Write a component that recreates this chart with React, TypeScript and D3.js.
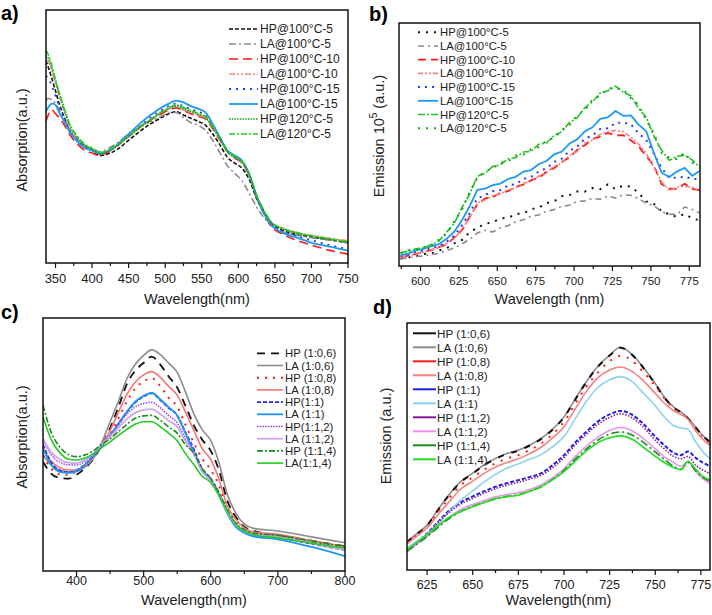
import React from 'react';
import * as d3 from 'd3';

// ---- panel a: absorption, temperature / time series ----
const WL_A = [337, 340, 345, 350, 355, 360, 370, 380, 390, 400, 410, 420, 435, 450, 465, 480, 495, 505, 515, 525, 535, 545, 555, 565, 575, 585, 595, 605, 615, 625, 635, 645, 660, 680, 700, 725, 750];
const A_HP100_5 = [80, 77.5, 73, 68, 63, 59, 52, 48.5, 46, 44.5, 42.5, 43, 45, 48.5, 52, 55, 57.5, 59, 59.8, 58.5, 57.2, 56, 54.5, 51, 46.6, 41.8, 39.5, 37.5, 33, 25.5, 20, 15.8, 13, 11.2, 10.3, 9.2, 8];
const A_LA100_5 = [64, 65, 64.5, 63, 60.5, 57.5, 52, 48.5, 46.5, 45.5, 44, 45, 47.5, 51, 53.5, 56, 58, 59.3, 59.5, 57.5, 55.5, 54.5, 52.5, 48.5, 43.5, 38.5, 35.5, 32.5, 27.5, 22.2, 18, 14.8, 12.5, 11, 10, 9, 8];
const A_HP100_10 = [56, 58.5, 60.5, 59, 57.5, 55.5, 50.5, 47, 44.5, 43.5, 42.5, 43.5, 46.5, 50, 53.5, 56.5, 59, 60.5, 61.3, 60.3, 59, 58, 57, 53, 48.5, 44, 41.5, 39.5, 34.5, 26, 19.5, 14.5, 11.5, 9, 7.1, 5, 3.5];
const A_LA100_10 = [80, 79.5, 76, 71, 66, 61.5, 53, 49, 46.5, 45, 43.5, 44, 46.5, 50, 53.5, 56.5, 59.5, 61, 61.8, 60.5, 59.5, 58.5, 57.3, 53.5, 49, 44, 41.5, 39.5, 34.5, 26.5, 20.5, 16.2, 13.8, 12, 11, 9.8, 8.8];
const A_HP100_15 = [74, 73, 70, 66, 62, 58.5, 52, 48.5, 46, 44.5, 43, 43.8, 46.5, 50.2, 54, 57.5, 60.5, 62, 63, 62, 60.8, 59.8, 58.5, 54.5, 49.5, 44.5, 42, 40, 35, 26.5, 20, 15.5, 12.5, 10.5, 9, 7, 5.5];
const A_LA100_15 = [60, 61.5, 63, 62.5, 59.5, 57, 51.5, 48, 45.5, 44.5, 43.3, 44, 47, 51, 55, 58.5, 61.5, 63, 64.2, 63.5, 62, 61, 59.5, 55, 49.5, 44.5, 42.5, 40.5, 35, 26.5, 19.5, 15, 12, 10, 8, 6.5, 4.9];
const A_HP120_5 = [82, 81, 77, 72, 67, 62.5, 54, 49.5, 46.5, 45, 43.5, 44, 46.5, 50, 53.5, 56.5, 59.5, 61, 62, 61, 59.8, 58.8, 57.5, 53.5, 49, 44, 41.8, 39.8, 35, 26.5, 20.5, 16, 13.5, 11.8, 10.5, 9.3, 8.2];
const A_LA120_5 = [84, 82.5, 78, 72.5, 67.5, 63, 54.5, 50, 47, 45.3, 43.7, 44.2, 46.8, 50.3, 53.8, 56.8, 59.8, 61.3, 62.5, 61.5, 60.2, 59.2, 58, 54, 49.5, 44.5, 42.2, 40.2, 35.3, 27, 20.8, 16.3, 13.8, 12, 10.8, 9.6, 8.5];
const TICKS_A = [350, 400, 450, 500, 550, 600, 650, 700, 750];
const MINOR_A = [375, 425, 475, 525, 575, 625, 675, 725];

// ---- panel b: emission, temperature / time series ----
const WL_B = [587, 592, 597, 602, 607, 612, 617, 622, 627, 632, 637, 642, 647, 652, 657, 662, 667, 672, 677, 682, 687, 692, 697, 702, 707, 712, 717, 722, 727, 732, 737, 742, 747, 752, 757, 762, 767, 772, 777, 782];
const B_HP100_5 = [3.0, 3.6, 3.9, 4.9, 5.2, 6.4, 7.3, 9.3, 10.7, 13.9, 15.7, 17.4, 18.0, 19.6, 19.8, 21.4, 21.7, 23.4, 24.0, 25.9, 26.6, 28.7, 29.2, 30.7, 30.6, 32.1, 31.6, 33.6, 31.6, 33.1, 32.6, 30.1, 26.6, 25.5, 22.6, 21.3, 20.2, 21.4, 19.6, 18.7];
const B_LA100_5 = [3.0, 3.3, 3.9, 4.1, 4.7, 5.2, 6.4, 7.4, 9.1, 10.9, 13.6, 14.7, 14.0, 15.7, 16.6, 18.2, 19.0, 20.5, 21.0, 22.5, 23.2, 24.6, 25.0, 26.6, 26.8, 27.8, 27.5, 28.8, 28.0, 29.3, 29.1, 27.8, 25.8, 24.8, 22.3, 21.3, 21.2, 24.3, 23.2, 21.8];
const B_HP100_10 = [3.5, 4.3, 4.9, 5.9, 6.5, 7.8, 8.8, 11.7, 14.8, 20.3, 25.3, 27.8, 28.3, 30.1, 30.8, 32.6, 33.5, 35.3, 36.3, 38.8, 40.3, 42.8, 44.7, 47.8, 49.7, 52.3, 53.2, 54.8, 53.7, 53.8, 51.7, 49.3, 45.2, 41.3, 33.7, 31.8, 31.7, 33.8, 31.7, 31.2];
const B_LA100_10 = [3.7, 4.1, 5.2, 5.7, 6.8, 7.5, 9.3, 11.3, 15.3, 19.7, 25.9, 27.2, 28.9, 29.6, 31.4, 32.1, 34.1, 34.8, 37.0, 38.3, 41.1, 42.3, 45.6, 47.1, 50.6, 51.7, 54.2, 55.2, 55.8, 55.3, 53.0, 50.2, 46.3, 40.6, 34.6, 31.0, 32.5, 32.8, 32.4, 30.4];
const B_HP100_15 = [4.1, 4.6, 5.8, 6.3, 7.5, 8.1, 10.0, 12.5, 16.8, 21.7, 27.8, 29.2, 30.8, 31.2, 33.1, 33.7, 35.8, 36.7, 38.9, 40.2, 42.8, 44.2, 47.4, 49.1, 52.4, 53.7, 56.4, 56.7, 58.9, 59.0, 58.4, 54.6, 51.9, 46.1, 40.4, 36.2, 36.4, 36.7, 35.9, 35.7];
const B_LA100_15 = [4.5, 5.1, 6.4, 7.0, 8.2, 9.0, 11.2, 14.2, 18.8, 24.6, 31.3, 31.8, 33.3, 33.9, 35.8, 36.7, 38.8, 39.5, 41.9, 43.2, 45.9, 47.1, 50.4, 52.1, 55.4, 57.1, 60.5, 61.2, 63.8, 61.8, 62.0, 58.2, 55.4, 46.5, 38.4, 36.6, 38.9, 40.4, 37.1, 39.2];
const B_HP120_5 = [5.5, 6.0, 7.1, 7.4, 8.9, 10.3, 13.9, 17.6, 24.0, 29.6, 36.9, 38.1, 41.0, 41.6, 44.1, 44.6, 46.9, 47.2, 50.1, 50.6, 53.8, 55.2, 59.1, 61.0, 65.2, 67.6, 71.2, 72.1, 74.0, 71.6, 70.1, 64.8, 61.2, 53.4, 47.6, 43.5, 45.1, 45.6, 43.6, 40.6];
const B_LA120_5 = [5.2, 6.4, 6.8, 7.8, 8.4, 10.8, 13.2, 18.4, 23.2, 30.5, 36.2, 39.0, 40.1, 42.5, 43.0, 45.5, 45.8, 48.1, 49.0, 51.6, 52.7, 56.0, 58.0, 62.1, 64.0, 68.6, 70.0, 73.1, 73.2, 72.6, 69.0, 66.3, 60.0, 54.7, 46.5, 44.6, 44.0, 46.6, 42.5, 41.5];
const TICKS_B = [600, 625, 650, 675, 700, 725, 750, 775];
const MINOR_B = [587.5, 612.5, 637.5, 662.5, 687.5, 712.5, 737.5, 762.5];

// ---- panel c: absorption, ratio series ----
const WL_C = [350, 362, 375, 388, 400, 412, 425, 437, 450, 462, 475, 487, 500, 512, 525, 537, 550, 562, 575, 587, 600, 612, 625, 637, 650, 662, 700, 750, 800];
const C_HP_06 = [43.2, 38.5, 36.8, 36.5, 38, 40.5, 44.2, 49.5, 56.5, 64.5, 74, 79, 82.3, 84.7, 81.5, 77, 72.5, 65.5, 57.5, 52, 47.5, 40, 27.5, 21.5, 17.5, 16, 14.2, 12, 9.8];
const C_LA_06 = [45.8, 42, 39.8, 39.2, 39.3, 41, 44.5, 50.5, 59, 66.8, 76, 81.5, 85.2, 87.4, 85.5, 82.2, 78.5, 71, 62, 56, 51.5, 43, 30, 23, 18.6, 17, 15.8, 13.5, 11.2];
const C_HP_08 = [45.8, 40.5, 38.2, 38, 39.3, 41.5, 44.8, 49.2, 54, 60, 67, 72, 75, 76.2, 73, 68.5, 65, 58, 50.5, 44.5, 40, 34, 24.5, 19.5, 16.5, 15, 14, 11.5, 9.4];
const C_LA_08 = [48.5, 43.5, 40.8, 39.9, 39.9, 41.5, 44.7, 49.8, 55.5, 62.5, 69.8, 74.5, 77.5, 78.8, 76.5, 73, 69.5, 63, 55.5, 48.5, 44, 36.5, 25.5, 20.5, 17, 15.5, 14.5, 12, 9.6];
const C_HP_1 = [50, 43, 39.7, 39, 39.8, 42, 45.5, 49.5, 53.5, 58, 62.8, 66.5, 69, 70.2, 67.5, 64.5, 61.5, 55, 48, 40.5, 36.5, 31, 23.5, 18.5, 15.8, 14.5, 13.3, 10.8, 8.3];
const C_LA_1 = [48.5, 42, 39.2, 38.8, 39.5, 41.8, 45.3, 49.3, 53.5, 58.2, 63, 66.8, 69.3, 70.4, 67.8, 64.8, 61.5, 54.5, 47, 39.5, 35.8, 30, 22.5, 17.5, 15, 13.8, 12.5, 9.5, 5.9];
const C_HP_12 = [51.8, 46, 43, 42, 41.9, 43.2, 46, 49.8, 53.3, 57.5, 62, 64.8, 66.2, 66.7, 64.5, 61.5, 58.5, 52.5, 46.5, 40, 36, 30.5, 23.2, 18.5, 16, 14.8, 13.8, 11.2, 8.7];
const C_LA_12 = [52.4, 47, 44.2, 42.8, 42.6, 44, 46.5, 50, 53, 56.5, 60, 62.5, 63.7, 64, 62, 59.5, 57, 51.5, 46, 39.5, 35.5, 30, 23, 18.3, 15.8, 14.6, 13.5, 11, 8.5];
const C_HP_14 = [65.6, 55, 49, 46, 45.2, 45.8, 47.5, 50, 52.2, 55, 58, 60.3, 61.3, 61.5, 59.5, 57, 54.5, 50, 46.5, 40.5, 36.5, 31, 24, 19, 16.3, 15, 14.1, 11.8, 9.6];
const C_LA_14 = [61, 52, 46.8, 44.2, 43.9, 44.6, 46.3, 48.7, 51, 53.5, 56, 58, 59, 59, 57, 54.5, 51.5, 46.5, 42, 37.5, 35, 30, 23.5, 18.5, 15.8, 14.5, 13.1, 11, 9];
const TICKS_C = [400, 500, 600, 700, 800];
const MINOR_C = [450, 550, 650, 750];

// ---- panel d: emission, ratio series ----
const WL_D = [614, 619, 625, 631, 637, 643, 650, 656, 662, 668, 675, 681, 687, 693, 700, 706, 712, 718, 725, 731, 737, 743, 750, 755, 760, 764, 768, 772, 776, 780];
const D_HP_06 = [11.3, 14.3, 18, 24.3, 30.3, 35.3, 39, 42.3, 44.8, 46.8, 48.3, 50.3, 52.8, 56.3, 61.8, 68.8, 75.8, 81.8, 86.8, 90, 87.3, 82.3, 75.3, 69.8, 65.8, 63.8, 61.3, 57.8, 54.3, 51.8];
const D_LA_06 = [11.5, 14.5, 18.2, 24.5, 30.5, 35.5, 39.2, 42.5, 45, 47, 48.5, 50.5, 53, 56.5, 62, 69, 76, 82, 87, 90.2, 87.5, 82.5, 75.5, 70, 66, 64, 61.5, 58, 54.5, 52];
const D_HP_08 = [11, 14, 17.5, 23.5, 29, 34, 37.5, 40.5, 43, 45, 46.5, 48.5, 51, 54.5, 60, 67, 74, 79.5, 84.5, 86.7, 85, 80.5, 74.5, 69.5, 65.5, 63.5, 61, 57, 53.5, 51.5];
const D_LA_08 = [10.5, 13.5, 17, 22.5, 27.5, 32.5, 36, 39, 41.5, 43.3, 45, 47, 49.5, 53, 58, 65, 72, 77.5, 81, 82.2, 80.5, 77, 71.5, 67.5, 64.5, 63, 61, 56.5, 53, 50.5];
const D_HP_1 = [7.8, 11, 14.8, 19.5, 24, 27.2, 29.8, 31.8, 33.6, 35, 36.4, 37.6, 39, 42, 46.5, 51.5, 55.8, 59.8, 63, 64.4, 63, 59.5, 54, 50.5, 47.5, 46.5, 48, 45.5, 43.5, 42];
const D_LA_1 = [9, 11.5, 14.5, 19, 23.5, 28, 32, 35.5, 38.5, 41, 43, 44.8, 46.5, 49.5, 54, 61, 68, 73.5, 77, 78.3, 76.5, 72, 66.5, 62, 58.5, 57.5, 57, 52, 48, 45];
const D_HP_12 = [7.5, 10.6, 14.3, 19, 23.3, 26.5, 29, 31, 32.8, 34.2, 35.5, 36.8, 38.2, 41, 45.5, 50.5, 54.8, 58.6, 61.8, 63.2, 61.8, 58.2, 52.5, 49, 46, 45, 46, 42.5, 40.5, 39];
const D_LA_12 = [7.5, 10.3, 13.5, 17.5, 21.3, 24.3, 26.5, 28, 29.5, 30.5, 31.3, 32.5, 34.3, 37, 41, 45.8, 50, 53.5, 56.5, 57.7, 56.5, 53.5, 49, 45.8, 43.5, 42, 43.8, 40, 37, 35];
const D_HP_14 = [7.6, 10.3, 13.5, 17.3, 20.8, 23.5, 25.8, 27.3, 28.7, 29.7, 30.5, 31.8, 33.5, 36.3, 40.3, 44.8, 48.8, 52.3, 55, 55.9, 54.8, 52, 47.8, 44.8, 42, 40.8, 43.5, 40.3, 37.5, 36];
const D_LA_14 = [8.2, 11, 14.2, 18, 21.3, 23.5, 25.6, 27.2, 28.8, 29.6, 30.3, 31.8, 33.6, 36.2, 39.8, 44, 48, 51.3, 53.5, 54.3, 53, 50, 46, 43.5, 41.5, 40.6, 44, 41, 38, 36.4];
const TICKS_D = [625, 650, 675, 700, 725, 750, 775];
const MINOR_D = [637.5, 662.5, 687.5, 712.5, 737.5, 762.5];

const FONT = 'Liberation Sans, Arial, Helvetica, sans-serif';

interface Series {
  label: string;
  values: number[];
  color: string;
  dash?: string;
  width?: number;
  cap?: 'round' | 'butt';
  legendSolid?: boolean;
}

interface LegendCfg { x1: number; x2: number; tx: number; y0: number; dy: number; font: number }

interface PanelProps {
  id: string;
  tag: string; tagX: number; tagY: number;
  left: number; top: number; right: number; bottom: number;
  xDomain: [number, number];
  ticks: number[]; minor: number[];
  tickFont: number; tickDy: number;
  xTitle: string; xTitleY: number;
  yTitle: React.ReactNode; yTitleX: number; yTitleY: number;
  wl: number[];
  series: Series[];
  order?: number[];
  curve: d3.CurveFactory;
  legend: LegendCfg;
}

const Panel: React.FC<PanelProps> = (p) => {
  const x = d3.scaleLinear().domain(p.xDomain).range([p.left, p.right]);
  const y = d3.scaleLinear().domain([0, 100]).range([p.bottom, p.top]);
  const line = d3.line<number>()
    .x((_, i) => x(p.wl[i]))
    .y((v) => y(v))
    .curve(p.curve);
  const order = p.order ?? p.series.map((_, i) => i);
  const cx = (p.left + p.right) / 2;

  return (
    <g>
      <defs>
        <clipPath id={`clip-${p.id}`}>
          <rect x={p.left} y={p.top} width={p.right - p.left} height={p.bottom - p.top} />
        </clipPath>
      </defs>
      <g clipPath={`url(#clip-${p.id})`}>
        {order.map((i) => {
          const s = p.series[i];
          return (
            <path key={s.label} d={line(s.values) ?? ''} fill="none" stroke={s.color}
              strokeWidth={s.width ?? 1.6} strokeDasharray={s.dash}
              strokeLinecap={s.cap ?? 'butt'} strokeLinejoin="round" />
          );
        })}
      </g>
      <rect x={p.left} y={p.top} width={p.right - p.left} height={p.bottom - p.top}
        fill="none" stroke="#111" strokeWidth={1.5} />
      {p.ticks.map((t) => (
        <g key={`t${t}`}>
          <line x1={x(t)} x2={x(t)} y1={p.bottom} y2={p.bottom + 5} stroke="#111" strokeWidth={1.2} />
          <text x={x(t)} y={p.bottom + p.tickDy} textAnchor="middle" fontSize={p.tickFont} fill="#222">{t}</text>
        </g>
      ))}
      {p.minor.map((t) => (
        <line key={`m${t}`} x1={x(t)} x2={x(t)} y1={p.bottom} y2={p.bottom + 3} stroke="#111" strokeWidth={1.2} />
      ))}
      <text x={cx} y={p.xTitleY} textAnchor="middle" fontSize={14.5} fill="#222">{p.xTitle}</text>
      <text transform={`translate(${p.yTitleX},${p.yTitleY}) rotate(-90)`} textAnchor="middle"
        dominantBaseline="central" fontSize={14.5} fill="#222">{p.yTitle}</text>
      {p.series.map((s, i) => {
        const ly = p.legend.y0 + i * p.legend.dy;
        return (
          <g key={`l${s.label}`}>
            <line x1={p.legend.x1} x2={p.legend.x2} y1={ly} y2={ly} stroke={s.color}
              strokeWidth={s.legendSolid ? 2 : (s.width ?? 1.6)}
              strokeDasharray={s.legendSolid ? undefined : s.dash}
              strokeLinecap={s.legendSolid ? 'butt' : (s.cap ?? 'butt')} />
            <text x={p.legend.tx} y={ly} dominantBaseline="central" fontSize={p.legend.font} fill="#222">{s.label}</text>
          </g>
        );
      })}
      <text x={p.tagX} y={p.tagY} fontWeight={700} fontSize={20} fill="#000">{p.tag}</text>
    </g>
  );
};

const seriesA: Series[] = [
  { label: 'HP@100°C-5', values: A_HP100_5, color: '#111111', dash: '4 2' },
  { label: 'LA@100°C-5', values: A_LA100_5, color: '#8a8a8a', dash: '7 3 2 3' },
  { label: 'HP@100°C-10', values: A_HP100_10, color: '#ff1a1a', dash: '9 5' },
  { label: 'LA@100°C-10', values: A_LA100_10, color: '#ff8a8a', dash: '6 2 2 2 2 2' },
  { label: 'HP@100°C-15', values: A_HP100_15, color: '#2a3cff', dash: '2 5', width: 1.8 },
  { label: 'LA@100°C-15', values: A_LA100_15, color: '#1e9af0', width: 1.8 },
  { label: 'HP@120°C-5', values: A_HP120_5, color: '#0a9a0a', dash: '1.5 1.2' },
  { label: 'LA@120°C-5', values: A_LA120_5, color: '#22cc22', dash: '6 2 2 2' },
];

const seriesB: Series[] = [
  { label: 'HP@100°C-5', values: B_HP100_5, color: '#111111', dash: '2 6', width: 2 },
  { label: 'LA@100°C-5', values: B_LA100_5, color: '#8a8a8a', dash: '6 4 2 4' },
  { label: 'HP@100°C-10', values: B_HP100_10, color: '#ff1a1a', dash: '8 5', width: 1.8 },
  { label: 'LA@100°C-10', values: B_LA100_10, color: '#ff8080', dash: '5 2 2 2 2 2' },
  { label: 'HP@100°C-15', values: B_HP100_15, color: '#2a3cff', dash: '2 5', width: 2 },
  { label: 'LA@100°C-15', values: B_LA100_15, color: '#1e9af0', width: 1.8 },
  { label: 'HP@120°C-5', values: B_HP120_5, color: '#22c422', dash: '7 2 2 2' },
  { label: 'LA@120°C-5', values: B_LA120_5, color: '#1aa81a', dash: '2 6', width: 2 },
];

const seriesC: Series[] = [
  { label: 'HP (1:0,6)', values: C_HP_06, color: '#111111', dash: '8 6', width: 1.8 },
  { label: 'LA (1:0,6)', values: C_LA_06, color: '#8c8c8c', width: 1.6 },
  { label: 'HP (1:0,8)', values: C_HP_08, color: '#ff1a1a', dash: '2 6', width: 2 },
  { label: 'LA (1:0,8)', values: C_LA_08, color: '#f57373', width: 1.6 },
  { label: 'HP(1:1)', values: C_HP_1, color: '#1f2fe0', dash: '4 2', width: 1.8 },
  { label: 'LA (1:1)', values: C_LA_1, color: '#1e95f0', width: 1.8 },
  { label: 'HP(1:1,2)', values: C_HP_12, color: '#9b40f5', dash: '1.5 1.2', width: 1.5 },
  { label: 'LA (1:1,2)', values: C_LA_12, color: '#cfa6f2', width: 1.8 },
  { label: 'HP (1:1,4)', values: C_HP_14, color: '#1e8c1e', dash: '6 2 2 2', width: 1.6 },
  { label: 'LA(1:1,4)', values: C_LA_14, color: '#22cc22', width: 1.6 },
];

const seriesD: Series[] = [
  { label: 'HP (1:0,6)', values: D_HP_06, color: '#111111', dash: '6 8', width: 2, legendSolid: true },
  { label: 'LA (1:0,6)', values: D_LA_06, color: '#8c8c8c', width: 1.6, legendSolid: true },
  { label: 'HP (1:0,8)', values: D_HP_08, color: '#ff1a1a', dash: '2 7', width: 2, legendSolid: true },
  { label: 'LA (1:0,8)', values: D_LA_08, color: '#f58080', width: 1.6, legendSolid: true },
  { label: 'HP (1:1)', values: D_HP_1, color: '#1f1fe6', dash: '4 2', width: 2, legendSolid: true },
  { label: 'LA (1:1)', values: D_LA_1, color: '#8cd2f5', width: 1.6, legendSolid: true },
  { label: 'HP (1:1,2)', values: D_HP_12, color: '#8a1a9a', dash: '1.5 1.5', width: 1.6, legendSolid: true },
  { label: 'LA (1:1,2)', values: D_LA_12, color: '#ee90ee', width: 1.6, legendSolid: true },
  { label: 'HP (1:1,4)', values: D_HP_14, color: '#1a8a1a', dash: '8 3 2 3', width: 1.6, legendSolid: true },
  { label: 'LA (1:1,4)', values: D_LA_14, color: '#22dd22', width: 1.6, legendSolid: true },
];

export default function App() {
  return (
    <svg width={712} height={615} fontFamily={FONT}
      style={{ position: 'absolute', left: 0, top: 0, background: '#fff' }}>
      <rect width={712} height={615} fill="#fff" />
      <Panel id="a" tag="a)" tagX={1} tagY={20}
        left={46} top={10} right={348} bottom={263} xDomain={[337, 750]}
        ticks={TICKS_A} minor={MINOR_A} tickFont={13} tickDy={20}
        xTitle="Wavelength(nm)" xTitleY={304}
        yTitle="Absorption(a.u.)" yTitleX={22} yTitleY={140}
        wl={WL_A} series={seriesA} curve={d3.curveMonotoneX}
        legend={{ x1: 229, x2: 258, tx: 260, y0: 29, dy: 15, font: 12 }} />
      <Panel id="b" tag="b)" tagX={369} tagY={21}
        left={399} top={23} right={700} bottom={266} xDomain={[586, 782]}
        ticks={TICKS_B} minor={MINOR_B} tickFont={11.5} tickDy={19}
        xTitle="Wavelength (nm)" xTitleY={304}
        yTitle={<>Emission 10<tspan dy={-6} fontSize={10}>5</tspan><tspan dy={6}> (a.u.)</tspan></>}
        yTitleX={379} yTitleY={136}
        wl={WL_B} series={seriesB} curve={d3.curveLinear}
        legend={{ x1: 418, x2: 438, tx: 440, y0: 32.3, dy: 13.7, font: 11.3 }} />
      <Panel id="c" tag="c)" tagX={1} tagY={319}
        left={43} top={318} right={345} bottom={571} xDomain={[350, 800]}
        ticks={TICKS_C} minor={MINOR_C} tickFont={12.5} tickDy={14}
        xTitle="Wavelength(nm)" xTitleY={605}
        yTitle="Absorption(a.u.)" yTitleX={22} yTitleY={437}
        wl={WL_C} series={seriesC} curve={d3.curveMonotoneX}
        legend={{ x1: 257, x2: 283, tx: 285, y0: 353.3, dy: 12.2, font: 11.3 }} />
      <Panel id="d" tag="d)" tagX={373} tagY={314}
        left={407} top={323} right={710} bottom={570} xDomain={[614, 780]}
        ticks={TICKS_D} minor={MINOR_D} tickFont={12.5} tickDy={19}
        xTitle="Wavelength(nm)" xTitleY={605}
        yTitle="Emission (a.u.)" yTitleX={386} yTitleY={436}
        wl={WL_D} series={seriesD} order={[1, 0, 2, 3, 4, 5, 6, 7, 8, 9]} curve={d3.curveMonotoneX}
        legend={{ x1: 413, x2: 436, tx: 437, y0: 333.3, dy: 14, font: 11.7 }} />
    </svg>
  );
}
